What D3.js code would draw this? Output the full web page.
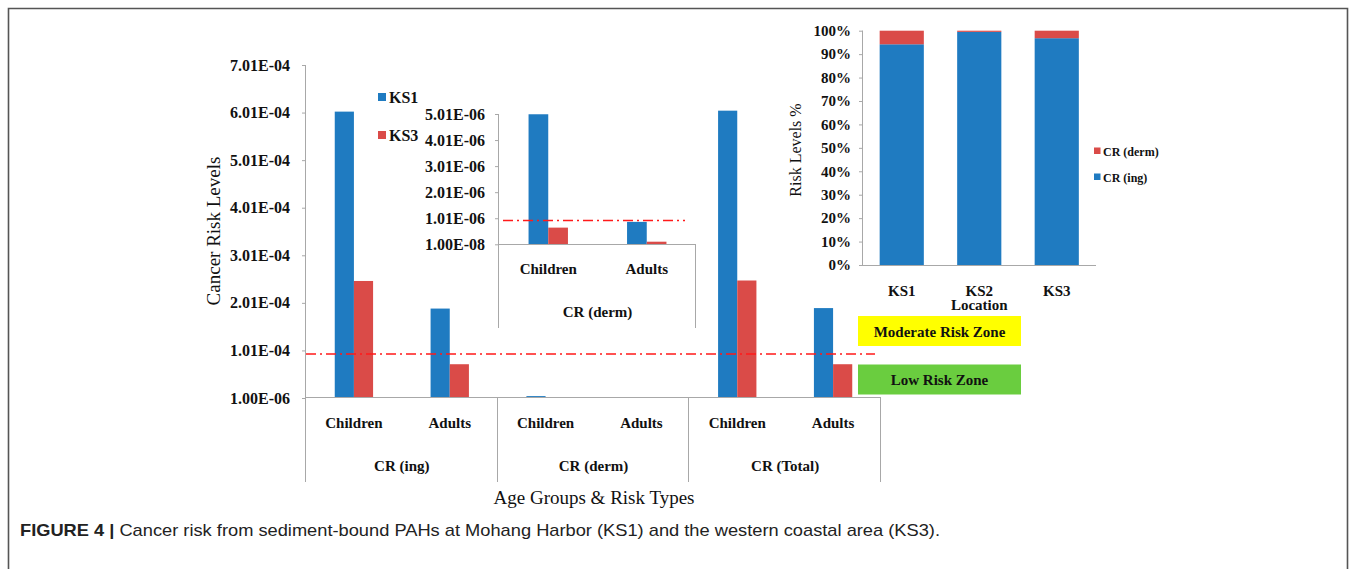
<!DOCTYPE html>
<html>
<head>
<meta charset="utf-8">
<script src="https://cdn.jsdelivr.net/npm/d3@7"></script>
<style>
  html, body { margin: 0; padding: 0; background: #fff; }
  svg { display: block; }
</style>
</head>
<body>
<svg id="chart" width="1356" height="569"></svg>
<script>
// ---------------- DATA ----------------
const ageGroups = ["Children", "Adults"];
const riskTypes = ["CR (ing)", "CR (derm)", "CR (Total)"];
const sites = ["KS1", "KS3"];
// main chart values (order: ing-Children, ing-Adults, derm-Children, derm-Adults, total-Children, total-Adults)
const ks1Values = [6.03e-4, 1.89e-4, 5.0e-6, 8.7e-7, 6.05e-4, 1.90e-4];
const ks3Values = [2.47e-4, 7.2e-5, 6.5e-7, 1.1e-7, 2.48e-4, 7.2e-5];
const mainTickValues = [1.0e-6, 1.01e-4, 2.01e-4, 3.01e-4, 4.01e-4, 5.01e-4, 6.01e-4, 7.01e-4];
const mainTickLabels = ["1.00E-06", "1.01E-04", "2.01E-04", "3.01E-04", "4.01E-04", "5.01E-04", "6.01E-04", "7.01E-04"];
const mainThreshold = 9.35e-5;
// inset (CR derm) values
const insetKS1 = [5.0e-6, 8.7e-7];
const insetKS3 = [6.5e-7, 1.1e-7];
const insetTickValues = [1.0e-8, 1.01e-6, 2.01e-6, 3.01e-6, 4.01e-6, 5.01e-6];
const insetTickLabels = ["1.00E-08", "1.01E-06", "2.01E-06", "3.01E-06", "4.01E-06", "5.01E-06"];
const insetThreshold = 9.2e-7;
// stacked percent chart
const locations = ["KS1", "KS2", "KS3"];
const ingPercent = [94.2, 99.5, 96.8];
const dermPercent = [5.8, 0.5, 3.2];
const pctTicks = [0, 10, 20, 30, 40, 50, 60, 70, 80, 90, 100];
const zoneLabels = ["Moderate Risk Zone", "Low Risk Zone"];
const captionBold = "FIGURE 4 | ";
const captionText = "Cancer risk from sediment-bound PAHs at Mohang Harbor (KS1) and the western coastal area (KS3).";

// ---------------- STYLE ----------------
const BLUE = "#1f7bc1", RED = "#da4b48", AXIS = "#a8a8a8";
const SERIF = "'Liberation Serif', 'Times New Roman', serif";
const SANS = "'Liberation Sans', Arial, sans-serif";

const svg = d3.select("#chart");

// frame
svg.append("path").attr("d", "M8.5,569 V8.5 H1347.5 V569")
  .attr("fill", "none").attr("stroke", "#555").attr("stroke-width", 1.6);

// ---------------- MAIN CHART ----------------
const mainKeys = d3.range(6);
const x0 = d3.scaleBand().domain(mainKeys).range([306, 881]).padding(0);
const x1 = d3.scaleBand().domain(sites).range([0, x0.bandwidth()]).paddingInner(0).paddingOuter(1.5);
const y = d3.scaleLinear().domain([1e-6, 7.01e-4]).range([398, 65]);

const gMain = svg.append("g");
// y axis
const yAxis = d3.axisLeft(y).tickValues(mainTickValues).tickSize(4).tickPadding(12)
  .tickFormat((d, i) => mainTickLabels[i]);
const ya = gMain.append("g").attr("transform", "translate(306,0)").call(yAxis);
ya.select(".domain").attr("stroke", AXIS).attr("d", `M-0.5,${y(7.01e-4)}V${y(1e-6)}`);
ya.selectAll(".tick line").attr("stroke", AXIS);
ya.selectAll("text").attr("font-family", SERIF).attr("font-weight", "bold").attr("font-size", 16).attr("fill", "#111");

// bars
const mainData = mainKeys.map(i => ({i, vals: [ks1Values[i], ks3Values[i]]}));
const barG = gMain.selectAll(".grp").data(mainData).enter().append("g")
  .attr("transform", d => `translate(${x0(d.i)},0)`);
barG.selectAll("rect").data(d => d.vals.map((v, k) => ({site: sites[k], v}))).enter().append("rect")
  .attr("x", d => x1(d.site)).attr("width", x1.bandwidth())
  .attr("y", d => y(d.v)).attr("height", d => y(1e-6) - y(d.v))
  .attr("fill", d => d.site === "KS1" ? BLUE : RED);

// baseline
gMain.append("line").attr("x1", 306).attr("x2", 881).attr("y1", 397.5).attr("y2", 397.5).attr("stroke", AXIS);
// group separators
[306, x0(2), x0(4), 881].forEach(xx => {
  gMain.append("line").attr("x1", Math.round(xx) - 0.5).attr("x2", Math.round(xx) - 0.5)
    .attr("y1", 397.5).attr("y2", 482).attr("stroke", AXIS);
});
// category labels
mainKeys.forEach(i => {
  gMain.append("text").attr("x", x0(i) + x0.bandwidth() / 2).attr("y", 423)
    .attr("text-anchor", "middle").attr("dominant-baseline", "central")
    .attr("font-family", SERIF).attr("font-weight", "bold").attr("font-size", 15).attr("fill", "#111")
    .text(ageGroups[i % 2]);
});
riskTypes.forEach((t, g) => {
  gMain.append("text").attr("x", x0(g * 2) + x0.bandwidth()).attr("y", 466)
    .attr("text-anchor", "middle").attr("dominant-baseline", "central")
    .attr("font-family", SERIF).attr("font-weight", "bold").attr("font-size", 15).attr("fill", "#111")
    .text(t);
});
// threshold
gMain.append("line").attr("x1", 306).attr("x2", 875).attr("y1", y(mainThreshold)).attr("y2", y(mainThreshold))
  .attr("stroke", "#ff1a1a").attr("stroke-width", 1.5).attr("stroke-dasharray", "10,4,2,4");

// axis titles
svg.append("text").attr("transform", "translate(213,231) rotate(-90)")
  .attr("text-anchor", "middle").attr("dominant-baseline", "central")
  .attr("font-family", SERIF).attr("font-size", 19).attr("fill", "#111").text("Cancer Risk Levels");
svg.append("text").attr("x", 594).attr("y", 497)
  .attr("text-anchor", "middle").attr("dominant-baseline", "central")
  .attr("font-family", SERIF).attr("font-size", 19).attr("fill", "#111").text("Age Groups & Risk Types");

// legend
sites.forEach((s, k) => {
  const ly = 97 + k * 38;
  svg.append("rect").attr("x", 378).attr("y", ly - 4).attr("width", 8).attr("height", 8).attr("fill", k ? RED : BLUE);
  svg.append("text").attr("x", 389).attr("y", ly).attr("dominant-baseline", "central")
    .attr("font-family", SERIF).attr("font-weight", "bold").attr("font-size", 16).attr("fill", "#111").text(s);
});

// ---------------- INSET (CR derm) ----------------
const gIn = svg.append("g");
const ix0 = d3.scaleBand().domain(ageGroups).range([499, 696]).padding(0);
const ix1 = d3.scaleBand().domain(sites).range([0, ix0.bandwidth()]).paddingInner(0).paddingOuter(1.5);
const iy = d3.scaleLinear().domain([1e-8, 5.01e-6]).range([244.3, 114]);

const iAxis = d3.axisLeft(iy).tickValues(insetTickValues).tickSize(4).tickPadding(10)
  .tickFormat((d, i) => insetTickLabels[i]);
const ia = gIn.append("g").attr("transform", "translate(499,0)").call(iAxis);
ia.select(".domain").attr("stroke", AXIS).attr("d", `M-0.5,114V328`);
ia.selectAll(".tick line").attr("stroke", AXIS);
ia.selectAll("text").attr("font-family", SERIF).attr("font-weight", "bold").attr("font-size", 16).attr("fill", "#111");

const insetData = ageGroups.map((a, i) => ({a, vals: [insetKS1[i], insetKS3[i]]}));
const ig = gIn.selectAll(".igrp").data(insetData).enter().append("g")
  .attr("transform", d => `translate(${ix0(d.a)},0)`);
ig.selectAll("rect").data(d => d.vals.map((v, k) => ({site: sites[k], v}))).enter().append("rect")
  .attr("x", d => ix1(d.site)).attr("width", ix1.bandwidth())
  .attr("y", d => iy(d.v)).attr("height", d => iy(1e-8) - iy(d.v))
  .attr("fill", d => d.site === "KS1" ? BLUE : RED);
gIn.append("line").attr("x1", 499).attr("x2", 696).attr("y1", 244.5).attr("y2", 244.5).attr("stroke", AXIS);
gIn.append("line").attr("x1", 695.5).attr("x2", 695.5).attr("y1", 244.5).attr("y2", 328).attr("stroke", AXIS);
ageGroups.forEach(a => {
  gIn.append("text").attr("x", ix0(a) + ix0.bandwidth() / 2).attr("y", 269)
    .attr("text-anchor", "middle").attr("dominant-baseline", "central")
    .attr("font-family", SERIF).attr("font-weight", "bold").attr("font-size", 15).attr("fill", "#111").text(a);
});
gIn.append("text").attr("x", 597.5).attr("y", 312)
  .attr("text-anchor", "middle").attr("dominant-baseline", "central")
  .attr("font-family", SERIF).attr("font-weight", "bold").attr("font-size", 15).attr("fill", "#111").text(riskTypes[1]);
gIn.append("line").attr("x1", 503).attr("x2", 685).attr("y1", iy(insetThreshold)).attr("y2", iy(insetThreshold))
  .attr("stroke", "#ff1a1a").attr("stroke-width", 1.5).attr("stroke-dasharray", "10,4,2,4");

// ---------------- STACKED % CHART ----------------
const gS = svg.append("g");
const sx = d3.scaleBand().domain(locations).range([863, 1095.5]).paddingInner(0.43).paddingOuter(0.215);
const sy = d3.scaleLinear().domain([0, 100]).range([265, 30.7]);
const sAxis = d3.axisLeft(sy).tickValues(pctTicks).tickSize(4).tickPadding(8).tickFormat(d => d + "%");
const sa = gS.append("g").attr("transform", "translate(863,0)").call(sAxis);
sa.select(".domain").attr("stroke", AXIS).attr("d", `M-0.5,${sy(100)}V${sy(0)}`);
sa.selectAll(".tick line").attr("stroke", AXIS);
sa.selectAll("text").attr("font-family", SERIF).attr("font-weight", "bold").attr("font-size", 15).attr("fill", "#111");

const stackData = locations.map((l, i) => ({loc: l, ing: ingPercent[i], derm: dermPercent[i]}));
const series = d3.stack().keys(["ing", "derm"])(stackData);
gS.selectAll(".ser").data(series).enter().append("g")
  .attr("fill", d => d.key === "ing" ? BLUE : RED)
  .selectAll("rect").data(d => d).enter().append("rect")
  .attr("x", d => sx(d.data.loc)).attr("width", sx.bandwidth())
  .attr("y", d => sy(d[1])).attr("height", d => sy(d[0]) - sy(d[1]));
gS.append("line").attr("x1", 863).attr("x2", 1096).attr("y1", 265.5).attr("y2", 265.5).attr("stroke", AXIS);
locations.forEach(l => {
  gS.append("text").attr("x", sx(l) + sx.bandwidth() / 2).attr("y", 291)
    .attr("text-anchor", "middle").attr("dominant-baseline", "central")
    .attr("font-family", SERIF).attr("font-weight", "bold").attr("font-size", 15).attr("fill", "#111").text(l);
});
gS.append("text").attr("x", sx("KS2") + sx.bandwidth() / 2).attr("y", 305)
  .attr("text-anchor", "middle").attr("dominant-baseline", "central")
  .attr("font-family", SERIF).attr("font-weight", "bold").attr("font-size", 15).attr("fill", "#111").text("Location");
gS.append("text").attr("transform", "translate(795,150) rotate(-90)")
  .attr("text-anchor", "middle").attr("dominant-baseline", "central")
  .attr("font-family", SERIF).attr("font-size", 16).attr("fill", "#111").text("Risk Levels %");
// stacked legend
[["CR (derm)", RED, 151], ["CR (ing)", BLUE, 177]].forEach(([t, c, ly]) => {
  gS.append("rect").attr("x", 1094).attr("y", ly - 3.5).attr("width", 6.5).attr("height", 6.5).attr("fill", c);
  gS.append("text").attr("x", 1103).attr("y", ly + 1).attr("dominant-baseline", "central")
    .attr("font-family", SERIF).attr("font-weight", "bold").attr("font-size", 12).attr("fill", "#111").text(t);
});

// ---------------- ZONES ----------------
[["#ffff00", 316], ["#6acd3f", 364.5]].forEach(([c, top], k) => {
  svg.append("rect").attr("x", 858).attr("y", top).attr("width", 163).attr("height", 30).attr("fill", c);
  svg.append("text").attr("x", 939.5).attr("y", top + 15.5).attr("text-anchor", "middle").attr("dominant-baseline", "central")
    .attr("font-family", SERIF).attr("font-weight", "bold").attr("font-size", 15).attr("fill", "#111").text(zoneLabels[k]);
});

// ---------------- CAPTION ----------------
const cap = svg.append("text").attr("x", 20).attr("y", 536)
  .attr("font-family", SANS).attr("font-size", 17).attr("fill", "#222")
  .attr("textLength", 920).attr("lengthAdjust", "spacingAndGlyphs");
cap.append("tspan").attr("font-weight", "bold").text(captionBold);
cap.append("tspan").text(captionText);
</script>
</body>
</html>
